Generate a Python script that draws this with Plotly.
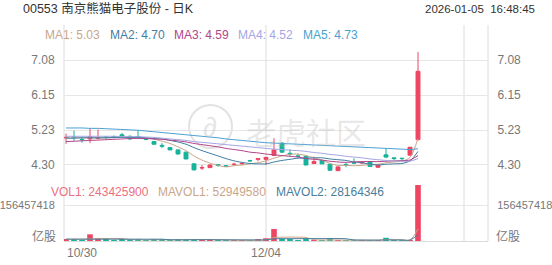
import plotly.graph_objects as go

# ---------------- data ----------------
dates = ["10/30","10/31","11/03","11/04","11/05","11/06","11/07","11/10","11/11","11/12",
         "11/13","11/14","11/17","11/18","11/19","11/20","11/21","11/24","11/25","11/26",
         "11/27","11/28","12/01","12/02","12/03","12/04","12/05","12/08","12/09","12/10",
         "12/11","12/12","12/15","12/16","12/17","12/18","12/19","12/22","12/23","12/24",
         "12/29","12/30","12/31","01/02","01/05"]
opens  = [5.02,5.04,4.98,4.99,5.00,5.04,5.05,5.10,5.06,5.05,5.00,4.92,4.82,4.76,4.70,4.64,4.33,4.22,4.23,4.31,
          4.28,4.31,4.33,4.42,4.45,4.45,4.55,4.88,4.61,4.54,4.53,4.34,4.42,4.32,4.15,4.31,4.36,4.35,4.39,4.24,
          4.57,4.49,4.48,4.56,4.97]
closes = [5.03,5.03,4.97,5.05,5.02,5.03,5.04,5.06,4.99,5.04,4.98,4.85,4.80,4.70,4.59,4.46,4.17,4.23,4.30,4.29,
          4.27,4.32,4.34,4.41,4.47,4.50,4.70,4.64,4.59,4.53,4.30,4.39,4.33,4.16,4.25,4.30,4.35,4.37,4.26,4.30,
          4.51,4.47,4.47,4.77,6.78]
highs  = [5.13,5.21,5.05,5.28,5.24,5.05,5.08,5.15,5.08,5.22,5.02,4.93,4.88,4.77,4.71,4.65,4.35,4.30,4.31,4.31,
          4.29,4.36,4.37,4.43,4.47,4.52,5.01,4.90,4.72,4.60,4.54,4.52,4.43,4.33,4.26,4.36,4.48,4.38,4.40,4.31,
          4.75,4.50,4.48,4.78,7.29]
lows   = [4.86,4.94,4.89,4.88,4.98,4.98,5.01,5.04,4.97,5.02,4.96,4.84,4.75,4.69,4.58,4.45,4.16,4.17,4.22,4.25,
          4.25,4.28,4.31,4.38,4.40,4.30,4.55,4.62,4.52,4.50,4.29,4.33,4.32,4.15,4.14,4.24,4.33,4.34,4.25,4.23,
          4.48,4.43,4.40,4.55,4.95]
volumes = [8.0e6,5.0e6,4.0e6,29.0e6,10.0e6,6.0e6,4.0e6,5.0e6,6.0e6,5.0e6,4.0e6,6.0e6,5.0e6,4.0e6,6.0e6,7.0e6,
           8.0e6,5.0e6,5.0e6,3.0e6,3.0e6,4.0e6,3.0e6,3.0e6,5.0e6,12.0e6,52.0e6,10.0e6,5.0e6,4.0e6,6.0e6,4.0e6,
           3.0e6,5.0e6,4.0e6,3.0e6,3.0e6,4.0e6,3.0e6,4.0e6,14.0e6,3.0e6,2.0e6,2.3e6,243425900]

ma1 = [5.02,5.02,5.02,5.02,5.02,5.02,5.02,5.04,5.03,5.03,5.02,4.98,4.93,4.87,4.78,4.68,4.54,4.43,4.35,4.29,
       4.25,4.28,4.30,4.33,4.36,4.41,4.48,4.54,4.58,4.59,4.55,4.49,4.43,4.34,4.29,4.29,4.28,4.29,4.31,4.32,
       4.36,4.38,4.40,4.50,5.00]
ma2 = [5.01,5.01,5.02,5.02,5.02,5.02,5.03,5.03,5.03,5.03,5.02,5.00,4.99,4.95,4.91,4.85,4.76,4.68,4.61,4.54,
       4.47,4.41,4.37,4.34,4.33,4.33,4.38,4.42,4.45,4.48,4.48,4.49,4.49,4.46,4.44,4.42,4.38,4.36,4.32,4.30,
       4.32,4.33,4.34,4.41,4.66]
ma3 = [4.92,4.93,4.94,4.95,4.96,4.97,4.98,4.99,5.00,5.00,5.00,4.99,4.98,4.96,4.94,4.91,4.87,4.84,4.81,4.78,
       4.74,4.71,4.68,4.64,4.62,4.59,4.57,4.55,4.53,4.51,4.47,4.45,4.43,4.40,4.38,4.37,4.38,4.39,4.39,4.39,
       4.40,4.41,4.42,4.43,4.55]
ma4 = [5.06,5.06,5.06,5.06,5.06,5.06,5.06,5.05,5.05,5.05,5.04,5.03,5.01,4.99,4.97,4.95,4.92,4.90,4.88,4.86,
       4.84,4.82,4.80,4.78,4.76,4.74,4.72,4.71,4.69,4.68,4.66,4.63,4.61,4.58,4.56,4.53,4.51,4.49,4.46,4.44,
       4.42,4.41,4.40,4.40,4.47]
ma5 = [5.28,5.28,5.28,5.27,5.27,5.26,5.25,5.24,5.23,5.22,5.20,5.18,5.16,5.14,5.12,5.10,5.08,5.06,5.04,5.02,
       4.99,4.97,4.95,4.93,4.91,4.89,4.88,4.87,4.86,4.85,4.84,4.83,4.82,4.81,4.80,4.79,4.78,4.77,4.76,4.75,
       4.74,4.73,4.72,4.71,4.73]
mavol1 = [8.0e6,8.0e6,8.0e6,9.0e6,11.2e6,10.8e6,10.6e6,10.8e6,6.2e6,5.2e6,4.8e6,5.2e6,5.2e6,4.8e6,5.0e6,5.6e6,
          6.0e6,6.0e6,6.2e6,5.6e6,4.8e6,4.0e6,3.6e6,3.2e6,3.6e6,5.4e6,15.0e6,16.4e6,16.8e6,16.6e6,15.4e6,5.8e6,
          4.4e6,4.4e6,4.4e6,3.8e6,3.6e6,3.8e6,3.4e6,3.4e6,5.6e6,5.6e6,5.2e6,5.06e6,52949580]
mavol2 = [8.0e6,8.0e6,8.0e6,8.0e6,8.0e6,8.0e6,8.0e6,8.0e6,8.0e6,8.2e6,7.8e6,7.9e6,8.0e6,5.5e6,5.1e6,5.2e6,
          5.6e6,5.6e6,5.5e6,5.3e6,5.2e6,5.0e6,4.8e6,4.7e6,4.6e6,5.1e6,9.5e6,10.0e6,10.0e6,10.1e6,10.4e6,10.4e6,
          10.4e6,10.6e6,10.5e6,9.6e6,4.7e6,4.1e6,3.9e6,3.9e6,4.7e6,4.6e6,4.5e6,4.2e6,28164346]

price_ticks = [4.30, 5.2267, 6.1533, 7.08]
price_tick_text = ["4.30", "5.23", "6.15", "7.08"]
vol_tick = 156457418
x_labels = ["10/30", "12/04"]

title_text = "00553 南京熊猫电子股份 - 日K"
time_text = "2026-01-05  16:48:45"
ma_legend = [("MA1: 5.03", "#c9a68b"), ("MA2: 4.70", "#3f7ea3"), ("MA3: 4.59", "#b3458a"),
             ("MA4: 4.52", "#a5a5e3"), ("MA5: 4.73", "#4a9fd2")]
vol_legend = [("VOL1: 243425900", "#ec6f80"), ("MAVOL1: 52949580", "#c9a68b"), ("MAVOL2: 28164346", "#4a7d9c")]

# ---------------- style ----------------
RED = "#ee4563"
TEAL = "#16b39a"
W, H = 552, 265
PL, PR, PT, PB = 64, 488, 25, 241  # plot-area pixel box
FONT = "Liberation Sans, Arial, Noto Sans CJK SC, sans-serif"

def fx(px):
    return (px - PL) / (PR - PL)

def fy(py):
    return (PB - py) / (PB - PT)

x = list(range(len(closes)))

fig = go.Figure()

fig.add_trace(go.Candlestick(
    x=x, open=opens, high=highs, low=lows, close=closes,
    increasing=dict(line=dict(color=RED, width=1), fillcolor=RED),
    decreasing=dict(line=dict(color=TEAL, width=1), fillcolor=TEAL),
    whiskerwidth=0, showlegend=False, hoverinfo="skip", yaxis="y"))

for vals, (_, col) in zip([ma1, ma2, ma3, ma4, ma5], ma_legend):
    fig.add_trace(go.Scatter(x=x, y=vals, mode="lines", line=dict(color=col, width=1, shape="spline", smoothing=0.8),
                             showlegend=False, hoverinfo="skip", yaxis="y"))

bar_colors = [RED if c >= o else TEAL for o, c in zip(opens, closes)]
fig.add_trace(go.Bar(x=x, y=volumes, marker=dict(color=bar_colors, line=dict(width=0)), width=0.7,
                     showlegend=False, hoverinfo="skip", yaxis="y2"))
fig.add_trace(go.Scatter(x=x, y=mavol1, mode="lines", line=dict(color="#c9a68b", width=1, shape="spline"),
                         showlegend=False, hoverinfo="skip", yaxis="y2"))
fig.add_trace(go.Scatter(x=x, y=mavol2, mode="lines", line=dict(color="#4a7d9c", width=1, shape="spline"),
                         showlegend=False, hoverinfo="skip", yaxis="y2"))
# helper invisible traces so the right-hand label axes exist
fig.add_trace(go.Scatter(x=[0], y=[price_ticks[0]], mode="markers", marker=dict(opacity=0), showlegend=False,
                         hoverinfo="skip", yaxis="y3"))
fig.add_trace(go.Scatter(x=[0], y=[0], mode="markers", marker=dict(opacity=0), showlegend=False,
                         hoverinfo="skip", yaxis="y4"))

main_dom = [fy(175), 1.0]
vol_dom = [0.0, fy(185)]
main_range = [4.035, 8.007]
vol_range = [0, max(volumes)]
tickfont = dict(family=FONT, size=12, color="#777")
voltickfont = dict(family=FONT, size=11, color="#777")
common = dict(zeroline=False, ticks="outside", ticklen=6, tickcolor="rgba(0,0,0,0)", automargin=False)

fig.update_layout(
    width=W, height=H, margin=dict(l=PL, r=W - PR, t=PT, b=H - PB, autoexpand=False),
    paper_bgcolor="white", plot_bgcolor="white", showlegend=False,
    boxgap=0.3,
    xaxis=dict(range=[-0.25, 52.75], showgrid=False, showticklabels=False, zeroline=False, automargin=False,
               rangeslider=dict(visible=False), anchor="y2", showline=True, linecolor="#dcdcdc", linewidth=1),
    yaxis=dict(domain=main_dom, range=main_range, tickvals=price_ticks, ticktext=price_tick_text,
               showgrid=True, gridcolor="#e6e6e6", side="left", tickfont=tickfont, **common),
    yaxis3=dict(domain=main_dom, range=main_range, tickvals=price_ticks, ticktext=price_tick_text,
                overlaying="y", side="right", showgrid=False, tickfont=tickfont, **common),
    yaxis2=dict(domain=vol_dom, range=vol_range, tickvals=[vol_tick], ticktext=[str(vol_tick)],
                showgrid=True, gridcolor="#e6e6e6", side="left", tickfont=voltickfont, **common),
    yaxis4=dict(domain=vol_dom, range=vol_range, tickvals=[vol_tick], ticktext=[str(vol_tick)],
                overlaying="y2", side="right", showgrid=False, tickfont=voltickfont, **common),
)

shapes = []
# vertical grid / border lines spanning both panels
for xr, xv in [("paper", 0), ("paper", 1), ("x", 25), ("x", 49.75)]:
    shapes.append(dict(type="line", xref=xr, yref="paper", x0=xv, x1=xv, y0=0, y1=1,
                       line=dict(color="#dcdcdc", width=1), layer="below"))
# watermark circle
shapes.append(dict(type="circle", xref="paper", yref="paper", x0=fx(189), x1=fx(232), y0=fy(148), y1=fy(105),
                   line=dict(color="rgba(190,190,190,0.45)", width=2), layer="below"))
fig.update_layout(shapes=shapes)

ann = []
ann.append(dict(text="老虎社区", x=fx(306), y=fy(131), xref="paper", yref="paper", showarrow=False,
                font=dict(family="Noto Sans CJK SC", size=30, color="rgba(190,190,190,0.35)")))
ann.append(dict(text="∂", x=fx(210), y=fy(127), xref="paper", yref="paper", showarrow=False,
                font=dict(family=FONT, size=28, color="rgba(190,190,190,0.4)")))
ann.append(dict(text=title_text, x=fx(21), y=fy(9), xref="paper", yref="paper", xanchor="left", yanchor="middle",
                showarrow=False, font=dict(family=FONT, size=12.5, color="#333")))
ann.append(dict(text=time_text, x=fx(537), y=fy(9), xref="paper", yref="paper", xanchor="right", yanchor="middle",
                showarrow=False, font=dict(family=FONT, size=11.5, color="#333")))
ma_x = [43, 108, 172, 236, 301]
for (t, c), px in zip(ma_legend, ma_x):
    ann.append(dict(text=t, x=fx(px), y=fy(35), xref="paper", yref="paper", xanchor="left", yanchor="middle",
                    showarrow=False, font=dict(family=FONT, size=12, color=c)))
vol_x = [49, 156, 274]
for (t, c), px in zip(vol_legend, vol_x):
    ann.append(dict(text=t, x=fx(px), y=fy(192), xref="paper", yref="paper", xanchor="left", yanchor="middle",
                    showarrow=False, font=dict(family=FONT, size=12, color=c)))
for px, anchor in [(58, "right"), (494, "left")]:
    ann.append(dict(text="亿股", x=fx(px), y=fy(236), xref="paper", yref="paper", xanchor=anchor, yanchor="middle",
                    showarrow=False, font=dict(family=FONT, size=12, color="#777")))
ann.append(dict(text=x_labels[0], x=fx(65), y=fy(253), xref="paper", yref="paper", xanchor="left", yanchor="middle",
                showarrow=False, font=dict(family=FONT, size=12, color="#777")))
ann.append(dict(text=x_labels[1], x=25, y=fy(253), xref="x", yref="paper", xanchor="center", yanchor="middle",
                showarrow=False, font=dict(family=FONT, size=12, color="#777")))
fig.update_layout(annotations=ann)

fig.write_html("out.html")
